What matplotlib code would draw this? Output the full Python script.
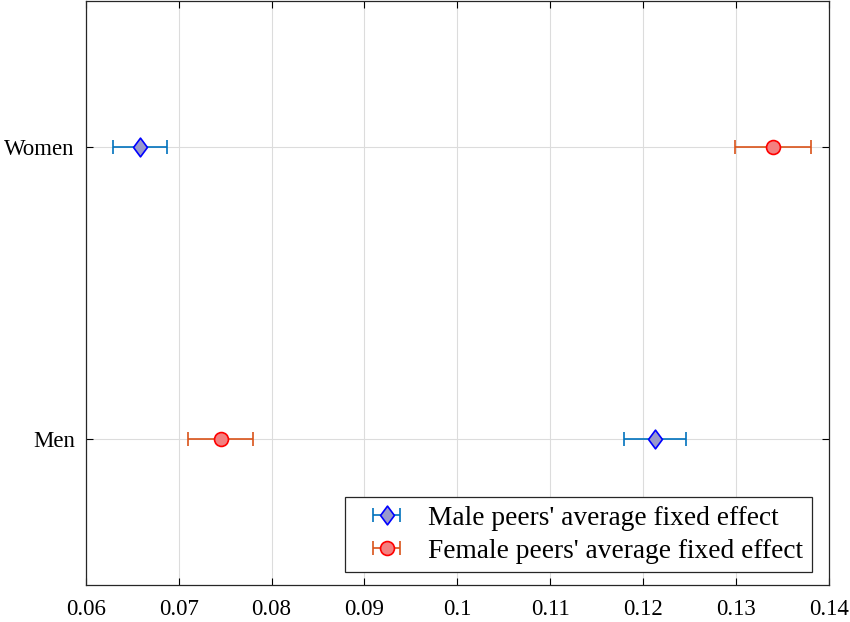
import matplotlib
matplotlib.use("Agg")
import matplotlib.pyplot as plt
from matplotlib.path import Path

groups = ["Men", "Women"]
male_mean = [0.1213, 0.0658]
male_err = [0.0033, 0.0029]
female_mean = [0.0745, 0.1340]
female_err = [0.0035, 0.0041]
xticks = [0.06, 0.07, 0.08, 0.09, 0.10, 0.11, 0.12, 0.13, 0.14]
xticklabels = ["0.06", "0.07", "0.08", "0.09", "0.1", "0.11", "0.12", "0.13", "0.14"]

plt.rcParams['font.family'] = ['Liberation Serif', 'DejaVu Serif']
fig = plt.figure(figsize=(8.5, 6.22), dpi=100)
ax = fig.add_axes([0.101, 0.0595, 0.874, 0.9395])

diamond = Path([(0, 1), (0.74, 0), (0, -1), (-0.74, 0), (0, 1)],
               [Path.MOVETO, Path.LINETO, Path.LINETO, Path.LINETO, Path.CLOSEPOLY])

ypos = [1, 2]
ax.errorbar(male_mean, ypos, xerr=male_err, linestyle='none', marker=diamond,
            color='#0072BD', ecolor='#0072BD', mfc='#9999CC', mec='#0000FF',
            ms=13.5, mew=1.2, capsize=5, elinewidth=1.2, capthick=1.3,
            label="Male peers' average fixed effect", zorder=3)
ax.errorbar(female_mean, ypos, xerr=female_err, linestyle='none', marker='o',
            color='#D95319', ecolor='#D95319', mfc='#F38080', mec='#FF0000',
            ms=10, mew=1.2, capsize=5, elinewidth=1.2, capthick=1.3,
            label="Female peers' average fixed effect", zorder=3)

ax.set_xlim(0.06, 0.14)
ax.set_ylim(0.5, 2.5)
ax.set_xticks(xticks)
ax.set_xticklabels(xticklabels)
ax.set_yticks(ypos)
ax.set_yticklabels(groups)
ax.tick_params(direction='in', top=True, right=True, labelsize=16.5, length=5, width=0.8)
ax.tick_params(axis='x', pad=10)
ax.tick_params(axis='y', pad=8)
ax.grid(True, color='#dcdcdc', linewidth=0.8)
ax.set_axisbelow(True)
for s in ax.spines.values():
    s.set_linewidth(0.9)
    s.set_color('#262626')

leg = ax.legend(loc='lower right', bbox_to_anchor=(0.977, 0.022), fontsize=19.7, frameon=True,
                fancybox=False, edgecolor='#262626', framealpha=1, borderaxespad=0.0,
                handlelength=2.45, borderpad=0.3, labelspacing=0.3, handletextpad=0.3)
leg.get_frame().set_linewidth(0.9)

fig.savefig("out.png", dpi=100)
